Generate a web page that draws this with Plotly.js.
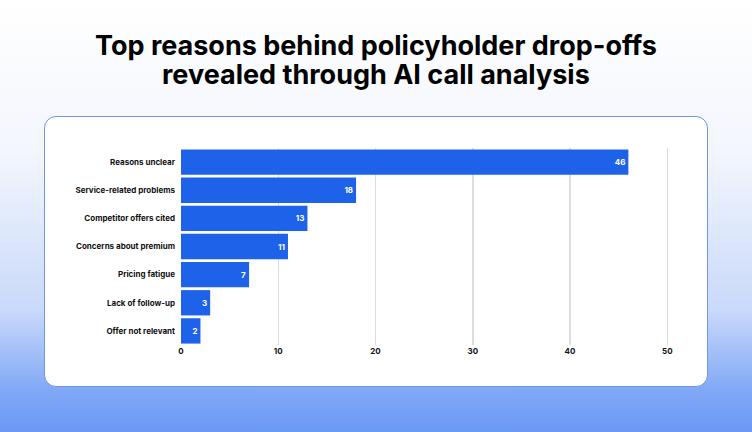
<!DOCTYPE html>
<html>
<head>
<meta charset="utf-8">
<script src="https://cdn.plot.ly/plotly-3.0.1.min.js"></script>
<style>
  html, body { margin:0; padding:0; width:752px; height:432px; overflow:hidden; }
  body { background: linear-gradient(to bottom, #ffffff 0%, #f3f6fd 35%, #c9d9fa 72%, #82a9f6 90%, #6a98f5 100%); position:relative; font-family: Inter, sans-serif; }
  #card { position:absolute; left:44px; top:116px; width:662px; height:269px; background:#fff; border:1px solid #6f95e6; border-radius:12px; }
  #chart { position:absolute; left:0; top:0; width:752px; height:432px; }
</style>
</head>
<body>
<div id="card"></div>
<div id="chart"></div>
<script>
const categories = ["Reasons unclear","Service-related problems","Competitor offers cited","Concerns about premium","Pricing fatigue","Lack of follow-up","Offer not relevant"];
const values = [46, 18, 13, 11, 7, 3, 2];
const xTicks = [0, 10, 20, 30, 40, 50];
const titleLines = ["Top reasons behind policyholder drop-offs", "revealed through AI call analysis"];

const trace = {
  type: 'bar',
  orientation: 'h',
  y: categories,
  x: values,
  text: values.map(String),
  textposition: 'inside',
  insidetextanchor: 'end',
  textfont: {family: 'Inter', size: 8, color: '#ffffff', weight: 700},
  marker: {color: '#1f62ea'},
  cliponaxis: false,
  hoverinfo: 'skip'
};

const titleFont = {family: 'Inter', size: 27, color: '#000000', weight: 700};
const layout = {
  width: 752, height: 432,
  paper_bgcolor: 'rgba(0,0,0,0)',
  plot_bgcolor: 'rgba(0,0,0,0)',
  margin: {l: 181, r: 75, t: 148, b: 87},
  bargap: 0.1,
  showlegend: false,
  annotations: [
    {text: titleLines[0], xref: 'paper', yref: 'paper', x: (376-181)/496, y: 1.5178, xanchor: 'center', yanchor: 'middle', showarrow: false, font: titleFont},
    {text: titleLines[1], xref: 'paper', yref: 'paper', x: (376-181)/496, y: 1.3706, xanchor: 'center', yanchor: 'middle', showarrow: false, font: titleFont}
  ],
  xaxis: {
    range: [0, 51],
    tickvals: xTicks,
    ticktext: xTicks.map(String),
    showgrid: true, gridcolor: '#dddddd', gridwidth: 1.5,
    zeroline: false, showline: false,
    ticks: '', ticklen: 0,
    tickfont: {family: 'Inter', size: 8, color: '#111111', weight: 700},
    fixedrange: true
  },
  yaxis: {
    autorange: 'reversed',
    showgrid: false, zeroline: false, showline: false,
    ticks: '', ticklabelstandoff: 5,
    tickfont: {family: 'Inter', size: 8, color: '#111111', weight: 700},
    fixedrange: true
  }
};

Plotly.newPlot('chart', [trace], layout, {displayModeBar: false, staticPlot: true});
</script>
</body>
</html>
